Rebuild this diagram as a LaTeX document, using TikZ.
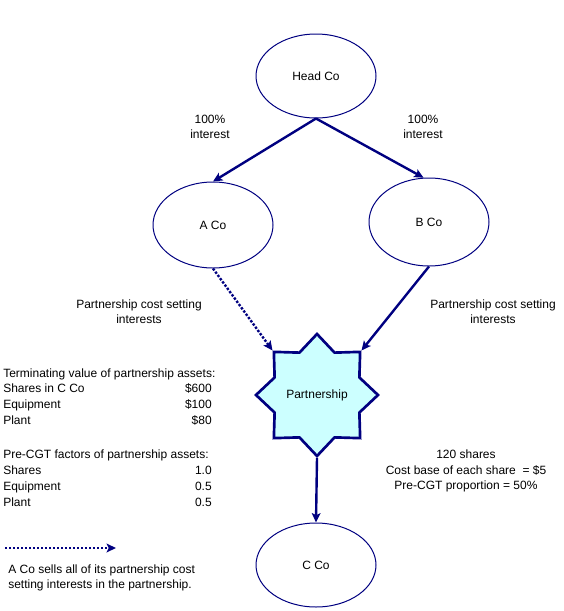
\documentclass[tikz,border=0pt]{standalone}
\usepackage{fontspec}
\setmainfont{Liberation Sans}
\usepackage{xcolor}
\usepackage{tikz}
\usetikzlibrary{shapes.geometric,arrows.meta}
\definecolor{cNavy}{HTML}{000080}
\definecolor{cCyan}{HTML}{CCFFFF}

\begin{document}
\begin{tikzpicture}[
  x=0.75pt, y=-0.75pt,
  every node/.style={font=\fontsize{9}{11}\selectfont, inner sep=0pt},
  company/.style={ellipse, draw=cNavy, line width=0.75pt,
    minimum width=90pt, minimum height=63pt},
  share/.style={draw=cNavy, line width=1.8pt,
    -{Stealth[length=7pt, width=6.5pt, inset=1.5pt]}},
  sale/.style={share, dash pattern=on 1.8pt off 1.2pt},
  note/.style={align=center},
]
\useasboundingbox (0,0) rectangle (564,611);

% ─── COMPANIES ───
\node[company] (head) at (316,76) {Head Co};
\node[company, minimum height=64.5pt] (aco) at (213,225) {A Co};
\node[company, minimum height=66pt] (bco) at (429,222) {B Co};
\node[company] (cco) at (316,565) {C Co};
%
% ─── PARTNERSHIP ───
\node[star, star points=8, star point ratio=1.33, minimum size=91.5pt,
  draw=cNavy, fill=cCyan, line width=2pt] (part) at (317,395) {Partnership};
%
% ─── CONNECTORS ───
\draw[share] (head.south) -- (aco.north);
\draw[share] (head.south) -- (bco.97);
\draw[sale] (aco.south) -- (part.135);
\draw[share] (bco.south) -- (part.45);
\draw[share] (part.south) -- (cco.north);
%
% ─── NOTES ───
\node[note] (intA) at (210,127) {100\%\\interest};
\node[note] (intB) at (423,127) {100\%\\interest};
\node[note] (pcsA) at (139,312) {Partnership cost setting\\interests};
\node[note] (pcsB) at (493,312) {Partnership cost setting\\interests};
\node[note, font=\fontsize{9}{11.6}\selectfont] (cost) at (466,471)
  {120 shares\\Cost base of each share \ = \$5\\Pre-CGT proportion = 50\%};
%
% ─── ASSETS ───
\node[anchor=base west] (tv) at (3,377) {Terminating value of partnership assets:};
\foreach \name/\item/\val [count=\i] in
  {tvshares/Shares in C Co/\$600, tvequip/Equipment/\$100, tvplant/Plant/\$80} {
  \node[anchor=base west] (\name) at (3,376+16.3*\i) {\item};
  \node[anchor=base east] (\name-v) at (212,376+16.3*\i) {\val};
}
\node[anchor=base west] (pf) at (3,458) {Pre-CGT factors of partnership assets:};
\foreach \name/\item/\val [count=\i] in
  {pfshares/Shares/1.0, pfequip/Equipment/0.5, pfplant/Plant/0.5} {
  \node[anchor=base west] (\name) at (3,458+16.3*\i) {\item};
  \node[anchor=base east] (\name-v) at (212,458+16.3*\i) {\val};
}
%
% ─── LEGEND ───
\coordinate (legA) at (5,548);
\coordinate (legB) at (116,548);
\draw[sale] (legA) -- (legB);
\node[anchor=west, align=left] (legtext) at (8,578)
  {A Co sells all of its partnership cost\\setting interests in the partnership.};

\end{tikzpicture}
\end{document}
